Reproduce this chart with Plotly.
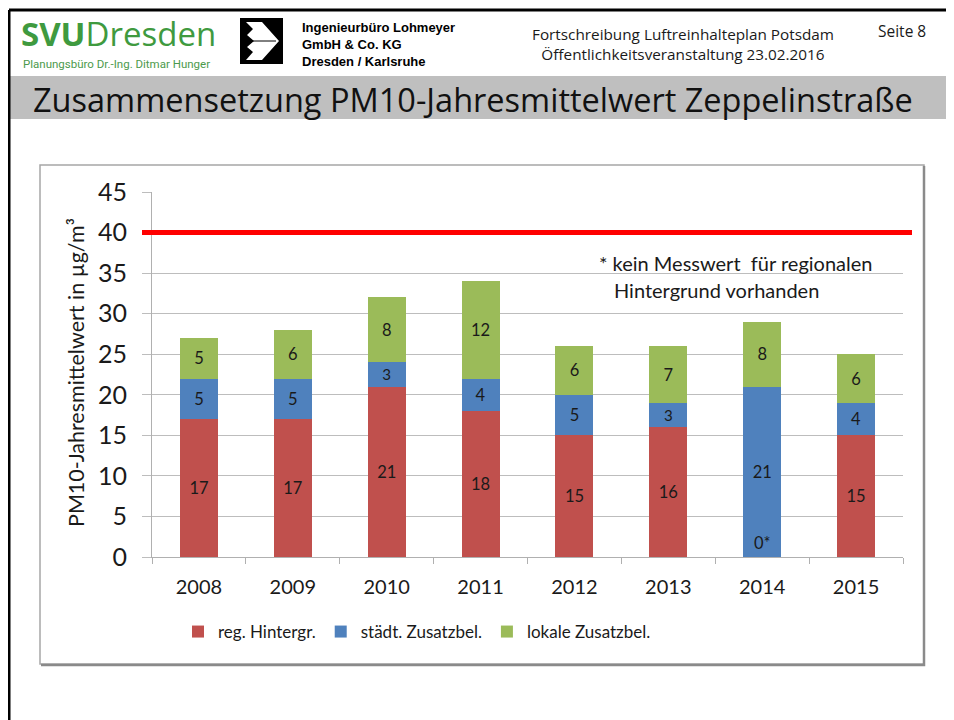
import plotly.graph_objects as go

# the page body adds an 8px margin; the figure fills the rest of the 954x720 window
OFF = 8
W, H = 954 - OFF, 720 - OFF

years = ["2008", "2009", "2010", "2011", "2012", "2013", "2014", "2015"]
reg_hintergrund = [17, 17, 21, 18, 15, 16, 0, 15]
staedt_zusatz = [5, 5, 3, 4, 5, 3, 21, 4]
lokal_zusatz = [5, 6, 8, 12, 6, 7, 8, 6]
reg_labels = ["17", "17", "21", "18", "15", "16", "0*", "15"]
grenzwert = 40
y_ticks = [0, 5, 10, 15, 20, 25, 30, 35, 40, 45]

series_names = ["reg. Hintergr.", "städt. Zusatzbel.", "lokale Zusatzbel."]
colors = ["#C0504D", "#4F81BD", "#9BBB59"]

CHART_FONT = "Lato, Carlito, Calibri, sans-serif"
TXT = "#1a1a1a"


def px(x, y):
    """screen pixel -> paper fraction"""
    return (x - OFF) / W, 1 - (y - OFF) / H


fig = go.Figure()

series = [reg_hintergrund, staedt_zusatz, lokal_zusatz]
for i, (name, vals, col) in enumerate(zip(series_names, series, colors)):
    labels = reg_labels if i == 0 else [str(v) for v in vals]
    shown = [lab if v > 0 else "" for lab, v in zip(labels, vals)]
    fig.add_trace(go.Bar(
        x=years, y=vals, name=name, marker=dict(color=col, line=dict(width=0)),
        text=shown, textposition="inside", insidetextanchor="middle",
        textangle=0, textfont=dict(family=CHART_FONT, size=16.5, color=TXT),
        hoverinfo="x+y+name",
    ))

# labels for zero-valued segments (e.g. "0*"), placed by category index
for idx, (v, lab) in enumerate(zip(reg_hintergrund, reg_labels)):
    if v == 0:
        fig.add_annotation(x=idx, y=0, xref="x", yref="y", text=lab, showarrow=False,
                           yanchor="bottom", yshift=2,
                           font=dict(family=CHART_FONT, size=16.5, color=TXT))

x0p, _ = px(152, 0)
x1p, _ = px(903, 0)
_, ytop = px(0, 192)
_, ybot = px(0, 557)

fig.update_layout(
    width=W, height=H, margin=dict(l=0, r=0, t=0, b=0, autoexpand=False),
    paper_bgcolor="white", plot_bgcolor="white",
    barmode="stack", bargap=0.595,
    font=dict(family=CHART_FONT, color=TXT),
    showlegend=True,
    legend=dict(orientation="h", x=px(178, 0)[0], xanchor="left",
                y=px(0, 632)[1], yanchor="middle",
                font=dict(family=CHART_FONT, size=17, color=TXT),
                bgcolor="rgba(0,0,0,0)", traceorder="normal"),
    xaxis=dict(domain=[x0p, x1p], type="category", range=[-0.5, len(years) - 0.5],
               showgrid=False, automargin=False,
               showline=True, linecolor="#b0b0b0", linewidth=1,
               ticks="outside", tickson="boundaries", ticklen=6, tickcolor="#b0b0b0",
               tickangle=0, ticklabelstandoff=12,
               tickfont=dict(family=CHART_FONT, size=20, color=TXT), fixedrange=True),
    yaxis=dict(domain=[ybot, ytop], range=[0, 45], tickvals=y_ticks, automargin=False,
               showgrid=True, gridcolor="#bdbdbd", gridwidth=1,
               showline=True, linecolor="#b0b0b0", linewidth=1,
               ticks="outside", ticklen=9, tickcolor="#bdbdbd", ticklabelstandoff=10,
               tickfont=dict(family=CHART_FONT, size=25, color=TXT),
               zeroline=False, fixedrange=True),
)

shapes = []
# black page frame (top and left)
a = px(9, 10); b = px(954, 10); c = px(9, 720)
shapes.append(dict(type="line", xref="paper", yref="paper", x0=a[0], y0=a[1], x1=b[0], y1=b[1],
                   line=dict(color="black", width=3)))
shapes.append(dict(type="line", xref="paper", yref="paper", x0=a[0], y0=a[1], x1=c[0], y1=c[1],
                   line=dict(color="black", width=3)))
# gray title band
p0 = px(10, 76); p1 = px(954, 119)
shapes.append(dict(type="rect", xref="paper", yref="paper", x0=p0[0], y0=p0[1], x1=p1[0], y1=p1[1],
                   fillcolor="#bfbfbf", line=dict(width=0), layer="below"))
# chart box
q0 = px(40, 165); q1 = px(924, 664)
shapes.append(dict(type="rect", xref="paper", yref="paper", x0=q0[0], y0=q0[1], x1=q1[0], y1=q1[1],
                   line=dict(color="#a6a6a6", width=1.5), layer="below"))
r0 = px(924, 166); r1 = px(924, 665); r2 = px(41, 665)
shapes.append(dict(type="path", xref="paper", yref="paper",
                   path=f"M{r0[0]},{r0[1]} L{r1[0]},{r1[1]} L{r2[0]},{r2[1]}",
                   line=dict(color="#8a8a8a", width=2.5)))
# Lohmeyer logo (black square with white arrow)
s0 = px(240, 18); s1 = px(283, 64)
shapes.append(dict(type="rect", xref="paper", yref="paper", x0=s0[0], y0=s0[1], x1=s1[0], y1=s1[1],
                   fillcolor="black", line=dict(width=0)))
arrow_pts = [(246, 22), (262, 22), (279, 41), (262, 60), (246, 60), (253, 52), (247, 47),
             (254, 41), (247, 35), (253, 29)]
pstr = "M" + " L".join(f"{px(x, y)[0]},{px(x, y)[1]}" for x, y in arrow_pts) + " Z"
shapes.append(dict(type="path", xref="paper", yref="paper", path=pstr,
                   fillcolor="white", line=dict(width=0)))
l0 = px(252, 41); l1 = px(276, 41)
shapes.append(dict(type="line", xref="paper", yref="paper", x0=l0[0], y0=l0[1], x1=l1[0], y1=l1[1],
                   line=dict(color="black", width=1)))
# limit value line
shapes.append(dict(type="line", xref="paper", yref="y", x0=px(142, 0)[0], x1=px(912, 0)[0],
                   y0=grenzwert, y1=grenzwert, line=dict(color="#FF0000", width=5)))
fig.update_layout(shapes=shapes)


def note(x, y, text, size, color=TXT, family=CHART_FONT, xanchor="left", angle=0, align="left"):
    xp, yp = px(x, y)
    fig.add_annotation(x=xp, y=yp, xref="paper", yref="paper", text=text, showarrow=False,
                       xanchor=xanchor, yanchor="middle", textangle=angle, align=align,
                       font=dict(family=family, size=size, color=color))


HEAD = "Open Sans, Noto Sans, sans-serif"
note(19, 33, "<b>SVU</b>Dresden", 33, color="#3f9a3f", family=HEAD)
note(21, 64, "Planungsbüro Dr.-Ing. Ditmar Hunger", 11.5, color="#4c9a4c", family="Roboto, sans-serif")
note(300, 44, "<b>Ingenieurbüro Lohmeyer<br>GmbH & Co. KG<br>Dresden / Karlsruhe</b>", 13,
     color="black", family="Liberation Sans, Arial")
note(683, 44, "Fortschreibung Luftreinhalteplan Potsdam<br>Öffentlichkeitsveranstaltung 23.02.2016",
     15.3, color="#1a1a1a", family=HEAD, xanchor="center", align="center")
note(902, 31, "Seite 8", 15.5, color="#1a1a1a", family=HEAD, xanchor="center")
note(31, 100, "Zusammensetzung PM10-Jahresmittelwert Zeppelinstraße", 32.5, color="#111111", family=HEAD)
note(76, 373, "PM10-Jahresmittelwert in µg/m³", 21.5, angle=-90, xanchor="center")
note(597, 263, "* kein Messwert  für regionalen", 20)
note(612, 290, "Hintergrund vorhanden", 20)

fig.write_html("out.html")
